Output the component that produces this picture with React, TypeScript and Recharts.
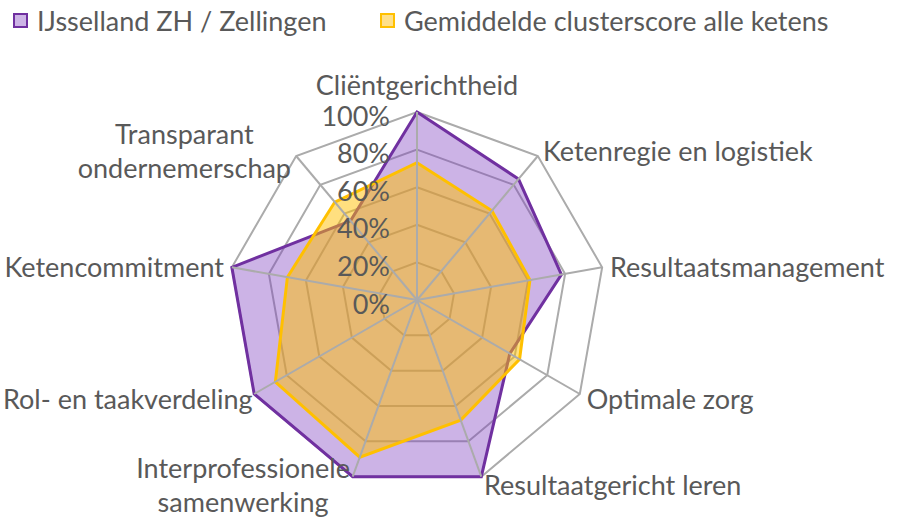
import { RadarChart, Radar, PolarGrid, PolarAngleAxis, PolarRadiusAxis } from 'recharts'

const CATEGORIES = [
  'Cliëntgerichtheid',
  'Ketenregie en logistiek',
  'Resultaatsmanagement',
  'Optimale zorg',
  'Resultaatgericht leren',
  'Interprofessionele samenwerking',
  'Rol- en taakverdeling',
  'Ketencommitment',
  'Transparant ondernemerschap',
]
const IJSSELLAND = [100, 84, 78, 57, 100, 100, 100, 100, 55]
const GEMIDDELD = [73, 62, 61, 63, 68, 89, 87, 70, 68]
const RADIUS_TICKS = [0, 20, 40, 60, 80, 100]

const SERIES_A = 'IJsselland ZH / Zellingen'
const SERIES_B = 'Gemiddelde clusterscore alle ketens'

const PURPLE = '#7030A0'
const ORANGE = '#FFC000'
const GRID = '#ABABAB'
const TEXT = '#595959'
const FONT = 'Lato, sans-serif'
const FS = 27
const LH = 34

const data = CATEGORIES.map((c, i) => ({ cat: c, a: IJSSELLAND[i], b: GEMIDDELD[i] }))

let ctx: CanvasRenderingContext2D | null = null
const measure = (s: string) => {
  if (!ctx) ctx = document.createElement('canvas').getContext('2d')
  if (!ctx) return s.length * FS * 0.5
  ctx.font = `${FS}px Lato`
  return ctx.measureText(s).width
}

// long labels wrap on the first space, like Excel does here
const wrap = (s: string) => {
  if (s.length <= 25) return [s]
  const i = s.indexOf(' ')
  return [s.slice(0, i), s.slice(i + 1)]
}

const AngleTick = ({ x, y, textAnchor, payload }: any) => {
  const lines = wrap(String(payload.value))
  const w = Math.max(...lines.map(measure))
  let midX = x
  let midY = y
  if (textAnchor === 'start') midX = Math.min(x + w / 2, 897 - w / 2)
  else if (textAnchor === 'end') midX = Math.max(x - w / 2, 3 + w / 2)
  else midY = y - 20
  const top = midY - ((lines.length - 1) * LH) / 2
  return (
    <text fill={TEXT} fontSize={FS} fontFamily={FONT} textAnchor="middle" dominantBaseline="central">
      {lines.map((l, i) => (
        <tspan key={i} x={midX} y={top + i * LH}>{l}</tspan>
      ))}
    </text>
  )
}

const RadiusTick = ({ x, y, payload }: any) => (
  <text x={x - 27} y={y + 3} fill={TEXT} fontSize={FS} fontFamily={FONT} textAnchor="end" dominantBaseline="central">
    {payload.value}%
  </text>
)

const LegendItem = ({ left, color, fill, label }: any) => (
  <div style={{ position: 'absolute', left, top: 4, display: 'flex', alignItems: 'center', height: 32 }}>
    <span style={{ width: 15, height: 15, boxSizing: 'border-box', border: `2.5px solid ${color}`, background: fill, marginRight: 9 }} />
    <span style={{ fontFamily: FONT, fontSize: FS, color: TEXT, whiteSpace: 'nowrap' }}>{label}</span>
  </div>
)

export default function App() {
  return (
    <div style={{ position: 'absolute', left: 0, top: 0, width: 899, height: 518, background: '#fff' }}>
      <RadarChart width={899} height={518} data={data} cx={417} cy={300} outerRadius={188}
        margin={{ top: 0, right: 0, bottom: 0, left: 0 }}>
        <PolarGrid gridType="polygon" radialLines={false} stroke={GRID} strokeWidth={2} />
        <PolarAngleAxis dataKey="cat" tick={<AngleTick />} tickLine={false} axisLine={false} />
        <Radar dataKey="a" name={SERIES_A} stroke={PURPLE} strokeWidth={3} fill="#8040C0" fillOpacity={0.4}
          isAnimationActive={false} />
        <Radar dataKey="b" name={SERIES_B} stroke={ORANGE} strokeWidth={3} fill={ORANGE} fillOpacity={0.5}
          isAnimationActive={false} />
        <PolarGrid gridType="polygon" polarRadius={[]} stroke={GRID} strokeWidth={2} zIndex={200} />
        <PolarRadiusAxis angle={90} domain={[0, 100]} ticks={RADIUS_TICKS} tick={<RadiusTick />}
          axisLine={false} tickLine={false} />
      </RadarChart>
      <LegendItem left={13} color={PURPLE} fill="#CDB4E6" label={SERIES_A} />
      <LegendItem left={380} color={ORANGE} fill="#FFE08A" label={SERIES_B} />
    </div>
  )
}
